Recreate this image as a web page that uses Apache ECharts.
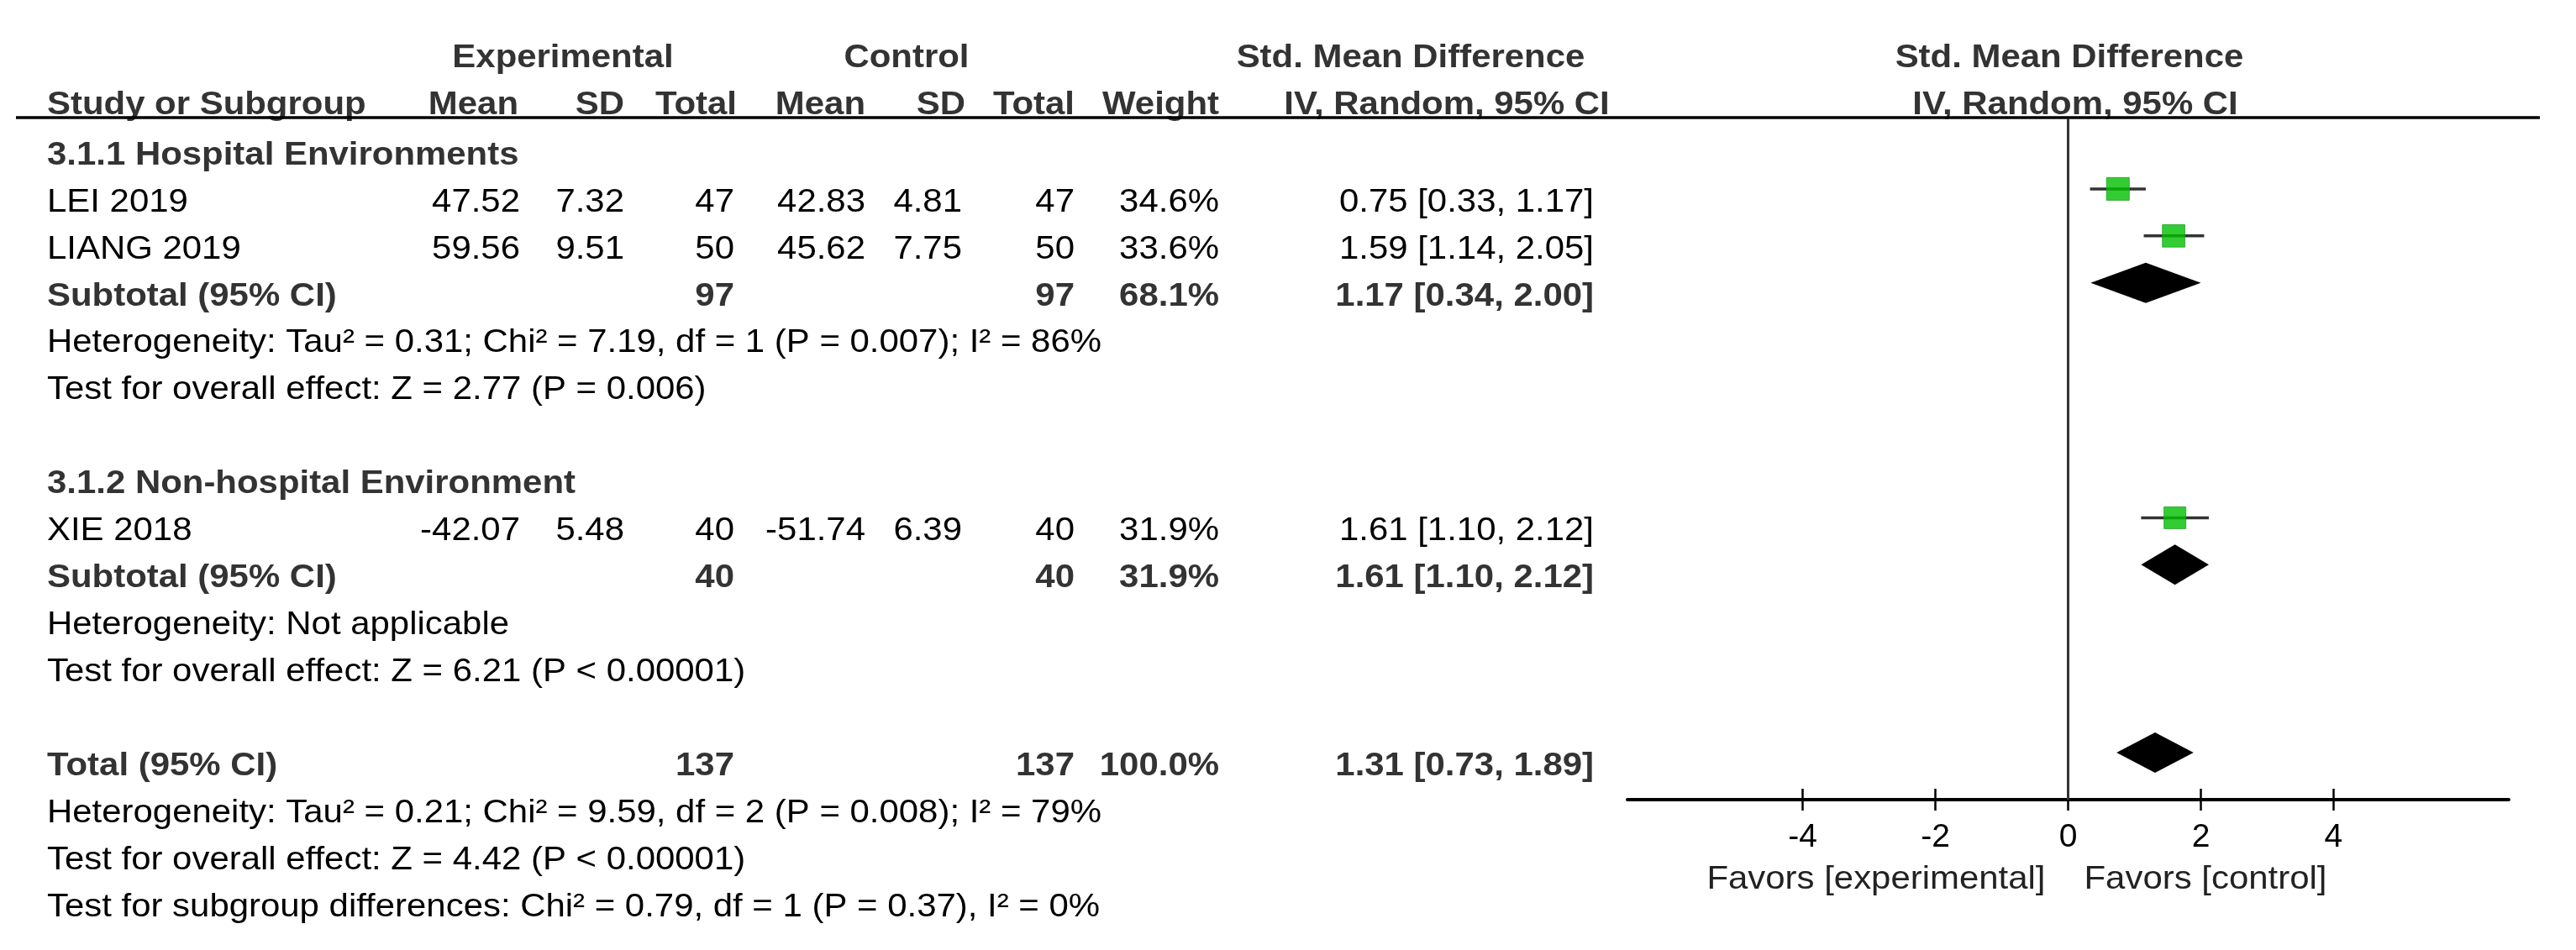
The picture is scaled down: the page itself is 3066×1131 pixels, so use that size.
<!DOCTYPE html>
<html>
<head>
<meta charset="utf-8">
<script src="https://cdn.jsdelivr.net/npm/echarts@6/dist/echarts.min.js"></script>
<style>
  html, body { margin: 0; padding: 0; background: #fff; }
  #c { width: 3066px; height: 1131px; }
</style>
</head>
<body>
<div id="c"></div>
<script>
// forest plot: SMD, IV random, 95% CI
const studies = ['LEI 2019', 'LIANG 2019', 'XIE 2018'];
const studyRow = [2, 3, 9];
const expMean = [47.52, 59.56, -42.07];
const expSD = [7.32, 9.51, 5.48];
const expN = [47, 50, 40];
const ctlMean = [42.83, 45.62, -51.74];
const ctlSD = [4.81, 7.75, 6.39];
const ctlN = [47, 50, 40];
const weight = [34.6, 33.6, 31.9];
const smd = [0.75, 1.59, 1.61];
const smdLo = [0.33, 1.14, 1.10];
const smdHi = [1.17, 2.05, 2.12];

const poolLabel = ['Subtotal (95% CI)', 'Subtotal (95% CI)', 'Total (95% CI)'];
const poolRow = [4, 10, 14];
const poolExpN = [97, 40, 137];
const poolCtlN = [97, 40, 137];
const poolWeight = [68.1, 31.9, 100.0];
const poolEst = [1.17, 1.61, 1.31];
const poolLo = [0.34, 1.10, 0.73];
const poolHi = [2.00, 2.12, 1.89];

const groupTitle = ['3.1.1 Hospital Environments', '3.1.2 Non-hospital Environment'];
const groupRow = [1, 8];
const noteRow = [5, 6, 11, 12, 15, 16, 17];
const noteText = [
  'Heterogeneity: Tau² = 0.31; Chi² = 7.19, df = 1 (P = 0.007); I² = 86%',
  'Test for overall effect: Z = 2.77 (P = 0.006)',
  'Heterogeneity: Not applicable',
  'Test for overall effect: Z = 6.21 (P < 0.00001)',
  'Heterogeneity: Tau² = 0.21; Chi² = 9.59, df = 2 (P = 0.008); I² = 79%',
  'Test for overall effect: Z = 4.42 (P < 0.00001)',
  'Test for subgroup differences: Chi² = 0.79, df = 1 (P = 0.37), I² = 0%'
];
const xTicks = [-4, -2, 0, 2, 4];
const favors = ['Favors [experimental]', 'Favors [control]'];

const FONT = '"Liberation Sans", Arial, sans-serif';
const FS = 39, SX = 1.075;
const INK = '#000', DARK = '#333', GREEN = '#00c000';

const chart = echarts.init(document.getElementById('c'), null, { renderer: 'canvas' });

const ciData = studies.map((s, i) => [smdLo[i], smdHi[i], studyRow[i]]);
const sqData = studies.map((s, i) => [smd[i], studyRow[i], weight[i]]);
const dmData = poolRow.map((r, i) => [poolLo[i], poolEst[i], poolHi[i], r]);

const xBase = {
  type: 'value', min: -6.64, max: 6.64, position: 'bottom', gridIndex: 0,
  splitLine: { show: false }
};

chart.setOption({
  backgroundColor: '#fff',
  animation: false,
  grid: { left: 1937, width: 1049, top: 141, height: 811 },
  xAxis: [
    Object.assign({}, xBase, {
      axisLine: { show: true, lineStyle: { color: '#000', width: 4 } },
      axisTick: { show: true, length: 13, customValues: xTicks, lineStyle: { color: '#000', width: 2.5 } },
      axisLabel: { show: true, customValues: xTicks, margin: 26, color: INK, fontSize: FS, fontFamily: FONT }
    }),
    Object.assign({}, xBase, {
      axisLine: { show: false },
      axisTick: { show: true, inside: true, length: 13, customValues: xTicks, lineStyle: { color: '#000', width: 2.5 } },
      axisLabel: { show: false }
    })
  ],
  yAxis: {
    type: 'value', min: 0.5, max: 15, inverse: true, show: false
  },
  series: [
    {
      type: 'custom', name: 'ci', xAxisIndex: 0, data: ciData, z: 2,
      renderItem: (p, api) => {
        const a = api.coord([api.value(0), api.value(2)]);
        const b = api.coord([api.value(1), api.value(2)]);
        return { type: 'line', shape: { x1: a[0], y1: a[1], x2: b[0], y2: b[1] }, style: { stroke: DARK, lineWidth: 3.5 } };
      }
    },
    {
      type: 'scatter', name: 'study', xAxisIndex: 0, data: sqData, z: 3,
      symbol: 'rect', symbolSize: (v) => 4.6 * Math.sqrt(v[2]),
      itemStyle: { color: GREEN, borderColor: '#1f9e1f', borderWidth: 1 }
    },
    {
      type: 'custom', name: 'pooled', xAxisIndex: 0, data: dmData, z: 3,
      renderItem: (p, api) => {
        const r = api.value(3);
        const lo = api.coord([api.value(0), r]);
        const c = api.coord([api.value(1), r]);
        const hi = api.coord([api.value(2), r]);
        const h = 24;
        return { type: 'polygon', shape: { points: [[lo[0], c[1]], [c[0], c[1] - h], [hi[0], c[1]], [c[0], c[1] + h]] }, style: { fill: '#000' } };
      }
    },
    {
      type: 'line', name: 'zero', xAxisIndex: 0, data: [], silent: true,
      markLine: { symbol: 'none', silent: true, label: { show: false }, lineStyle: { color: DARK, width: 3, type: 'solid' }, data: [{ xAxis: 0 }] }
    }
  ]
});

// table text, placed on the same row scale as the plot
const rowMid = (r) => chart.convertToPixel({ yAxisIndex: 0 }, r) + 16;
const f2 = (v) => v.toFixed(2);
const els = [];
function txt(x, r, s, bold, align, fill) {
  els.push({
    type: 'text', x: x, y: rowMid(r), scaleX: SX, silent: true,
    style: {
      text: s, font: (bold ? 'bold ' : '') + FS + 'px ' + FONT,
      fill: fill || (bold ? DARK : INK),
      textAlign: align || 'left', textVerticalAlign: 'middle',
      align: align || 'left', verticalAlign: 'middle'
    }
  });
}

// headers
const H1 = -1.07, H0 = -0.07;
txt(670, H1, 'Experimental', true, 'center');
txt(1079, H1, 'Control', true, 'center');
txt(1679, H1, 'Std. Mean Difference', true, 'center');
txt(2463, H1, 'Std. Mean Difference', true, 'center');
txt(56, H0, 'Study or Subgroup', true);
txt(617, H0, 'Mean', true, 'right');
txt(743, H0, 'SD', true, 'right');
txt(877, H0, 'Total', true, 'right');
txt(1030, H0, 'Mean', true, 'right');
txt(1149, H0, 'SD', true, 'right');
txt(1279, H0, 'Total', true, 'right');
txt(1451, H0, 'Weight', true, 'right');
txt(1722, H0, 'IV, Random, 95% CI', true, 'center');
txt(2470, H0, 'IV, Random, 95% CI', true, 'center');

groupTitle.forEach((g, i) => txt(56, groupRow[i], g, true));

studies.forEach((s, i) => {
  const r = studyRow[i];
  txt(56, r, s, false);
  txt(619, r, f2(expMean[i]), false, 'right');
  txt(743, r, f2(expSD[i]), false, 'right');
  txt(874, r, String(expN[i]), false, 'right');
  txt(1030, r, f2(ctlMean[i]), false, 'right');
  txt(1145, r, f2(ctlSD[i]), false, 'right');
  txt(1279, r, String(ctlN[i]), false, 'right');
  txt(1451, r, weight[i].toFixed(1) + '%', false, 'right');
  txt(1897, r, f2(smd[i]) + ' [' + f2(smdLo[i]) + ', ' + f2(smdHi[i]) + ']', false, 'right');
});

poolRow.forEach((r, i) => {
  txt(56, r, poolLabel[i], true);
  txt(874, r, String(poolExpN[i]), true, 'right');
  txt(1279, r, String(poolCtlN[i]), true, 'right');
  txt(1451, r, poolWeight[i].toFixed(1) + '%', true, 'right');
  txt(1897, r, f2(poolEst[i]) + ' [' + f2(poolLo[i]) + ', ' + f2(poolHi[i]) + ']', true, 'right');
});

noteRow.forEach((r, i) => txt(56, r, noteText[i], false));

// favours captions either side of zero
const x0 = chart.convertToPixel({ xAxisIndex: 0 }, 0);
els.push(
  { type: 'text', x: x0 - 27, y: 1047, scaleX: SX, silent: true,
    style: { text: favors[0], font: FS + 'px ' + FONT, fill: '#222', textAlign: 'right', align: 'right', textVerticalAlign: 'middle', verticalAlign: 'middle' } },
  { type: 'text', x: x0 + 19, y: 1047, scaleX: SX, silent: true,
    style: { text: favors[1], font: FS + 'px ' + FONT, fill: '#222', textAlign: 'left', align: 'left', textVerticalAlign: 'middle', verticalAlign: 'middle' } },
  { type: 'line', silent: true, shape: { x1: 19, y1: 140, x2: 3023, y2: 140 }, style: { stroke: '#000', lineWidth: 3.5 } }
);

chart.setOption({ graphic: { elements: els } });
</script>
</body>
</html>
